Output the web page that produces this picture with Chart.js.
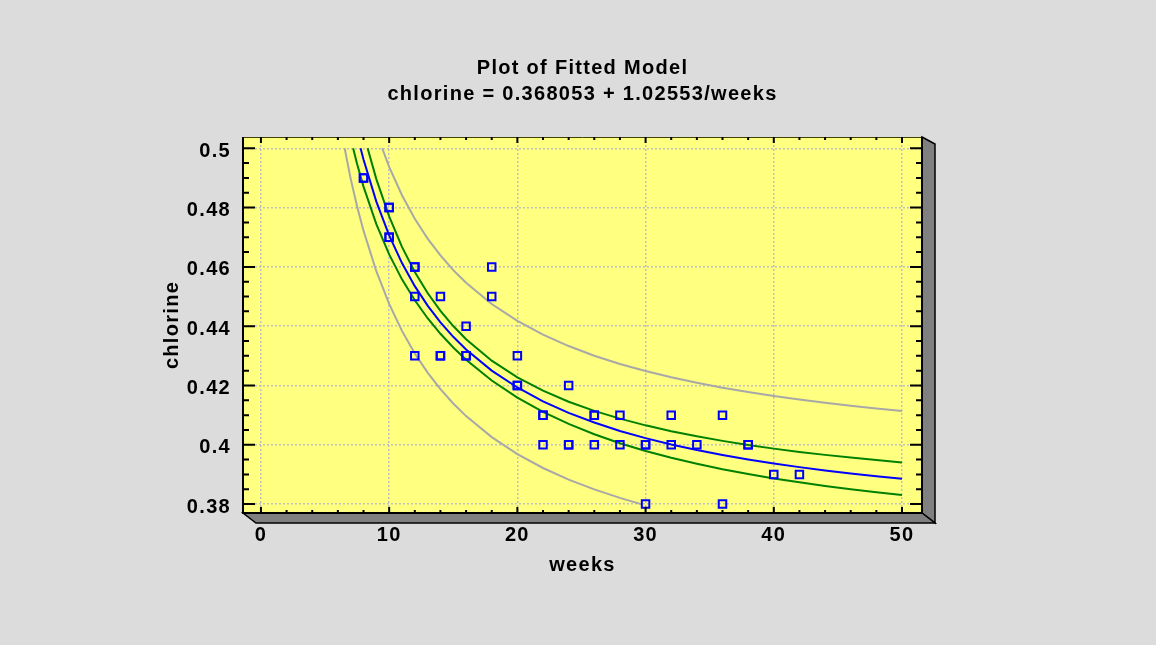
<!DOCTYPE html>
<html>
<head>
<meta charset="utf-8">
<title>Plot of Fitted Model</title>
<script src="https://cdn.jsdelivr.net/npm/chart.js@4.4.1/dist/chart.umd.min.js"></script>
<style>
  html, body { margin: 0; padding: 0; background: #dcdcdc; }
  canvas { display: block; }
</style>
</head>
<body>
<canvas id="myChart" width="1156" height="645"></canvas>
<script>
// observations
let weeks    = [8,8,10,10,10,10,12,12,12,12,14,14,14,16,16,16,18,18,20,20,20,22,22,22,24,24,24,26,26,26,28,28,30,30,30,32,32,34,36,36,38,38,40,42];
let chlorine = [0.49,0.49,0.48,0.47,0.48,0.47,0.46,0.46,0.45,0.43,0.45,0.43,0.43,0.44,0.43,0.43,0.46,0.45,0.42,0.42,0.43,0.41,0.41,0.40,0.42,0.40,0.40,0.41,0.40,0.41,0.41,0.40,0.40,0.40,0.38,0.41,0.40,0.40,0.41,0.38,0.40,0.40,0.39,0.39];

// fitted line and limits
let fitX = [7.77,8,9,10,11,12,13,14,15,16,18,20,22,24,26,28,30,32,34,36,38,40,42,44,46,48,50];
let fitY = [0.5,0.49624,0.482,0.47061,0.46128,0.45351,0.44694,0.44131,0.43642,0.43215,0.42503,0.41933,0.41467,0.41078,0.4075,0.40468,0.40224,0.4001,0.39822,0.39654,0.39504,0.39369,0.39247,0.39136,0.39035,0.38942,0.38856];

let upConfX = [8.32,9,10,11,12,13,14,15,16,18,20,22,24,26,28,30,32,34,36,38,40,42,44,46,48,50];
let upConfY = [0.5,0.4896,0.47701,0.46676,0.45829,0.45119,0.44518,0.44004,0.4356,0.42838,0.42275,0.41824,0.41453,0.41145,0.40882,0.40656,0.40458,0.40285,0.40132,0.39994,0.39871,0.3976,0.3966,0.39568,0.39484,0.39406];

let loConfX = [7.19,7.5,8,9,10,11,12,13,14,15,16,18,20,22,24,26,28,30,32,34,36,38,40,42,44,46,48,50];
let loConfY = [0.5,0.49467,0.48708,0.4744,0.46421,0.4558,0.44873,0.44269,0.43744,0.4328,0.4287,0.42168,0.41591,0.4111,0.40703,0.40355,0.40054,0.39792,0.39562,0.39359,0.39176,0.39014,0.38867,0.38734,0.38612,0.38502,0.384,0.38306];

let upPredX = [9.46,10,11,12,13,14,15,16,18,20,22,24,26,28,30,32,34,36,38,40,42,44,46,48,50];
let upPredY = [0.5,0.49372,0.48415,0.47622,0.46954,0.46385,0.45891,0.45462,0.44748,0.44179,0.43716,0.4333,0.43005,0.42726,0.42486,0.42275,0.4209,0.41925,0.41778,0.41645,0.41526,0.41417,0.41318,0.41227,0.41143];

let loPredX = [6.53,7,7.5,8,9,10,11,12,13,14,15,16,18,20,22,24,26,28,29.65];
let loPredY = [0.5,0.48968,0.48039,0.47222,0.45854,0.4475,0.43841,0.4308,0.42434,0.41877,0.41393,0.40968,0.40258,0.39687,0.39218,0.38826,0.38495,0.3821,0.38];

// axis ticks
let xTicks = [0,10,20,30,40,50];
let yTicks = [0.38,0.4,0.42,0.44,0.46,0.48,0.5];

let pts = (xs, ys) => xs.map((x, i) => ({x: x, y: ys[i]}));
let fnt = {family: '"Liberation Sans", Arial, sans-serif', size: 20, weight: 'bold'};

let spacing = {
  id: 'spacing',
  beforeUpdate(c) { c.ctx.letterSpacing = '1.3px'; },
  beforeDraw(c) { c.ctx.letterSpacing = '1.3px'; }
};

let frame = {
  id: 'frame',
  beforeDraw(c) {
    let ctx = c.ctx, a = c.chartArea;
    ctx.save();
    ctx.fillStyle = '#ffff80';
    ctx.fillRect(a.left, a.top, a.right - a.left, a.bottom - a.top);
    ctx.restore();
  },
  afterDraw(c) {
    let ctx = c.ctx, a = c.chartArea, sx = c.scales.x, sy = c.scales.y;
    ctx.save();
    // 3d side + floor
    ctx.fillStyle = '#808080';
    ctx.strokeStyle = '#000';
    ctx.lineWidth = 1.5;
    ctx.beginPath();
    ctx.moveTo(a.right, a.top);
    ctx.lineTo(a.right + 13, a.top + 7);
    ctx.lineTo(a.right + 13, a.bottom + 10);
    ctx.lineTo(a.right, a.bottom);
    ctx.closePath();
    ctx.fill(); ctx.stroke();
    ctx.beginPath();
    ctx.moveTo(a.left, a.bottom);
    ctx.lineTo(a.right, a.bottom);
    ctx.lineTo(a.right + 13, a.bottom + 10);
    ctx.lineTo(a.left + 13, a.bottom + 10);
    ctx.closePath();
    ctx.fill(); ctx.stroke();

    // frame
    ctx.strokeStyle = '#404000';
    ctx.lineWidth = 1;
    ctx.beginPath();
    ctx.moveTo(a.left, a.top + 0.5); ctx.lineTo(a.right, a.top + 0.5);
    ctx.stroke();
    ctx.strokeStyle = '#000';
    ctx.lineWidth = 2;
    ctx.beginPath();
    ctx.moveTo(a.left, a.top); ctx.lineTo(a.left, a.bottom); ctx.lineTo(a.right, a.bottom); ctx.lineTo(a.right, a.top);
    ctx.stroke();

    // tick marks
    ctx.lineWidth = 2;
    ctx.beginPath();
    for (let v = 0; v <= 50; v += 2) {
      let px = sx.getPixelForValue(v);
      let len = v % 10 === 0 ? 6 : 3;
      ctx.moveTo(px, a.bottom); ctx.lineTo(px, a.bottom - len);
      ctx.moveTo(px, a.top); ctx.lineTo(px, a.top + len);
    }
    for (let k = 0; k <= 24; k++) {
      let py = sy.getPixelForValue(0.38 + k * 0.005);
      let len = k % 4 === 0 ? 12 : 6;
      ctx.moveTo(a.left, py); ctx.lineTo(a.left + len, py);
      ctx.moveTo(a.right, py); ctx.lineTo(a.right - len, py);
    }
    ctx.stroke();
    ctx.restore();
  }
};

let ctx = document.querySelector('#myChart').getContext('2d');
let myChart = new Chart(ctx, {
  type: 'scatter',
  data: {
    datasets: [
      {
        label: 'chlorine',
        data: pts(weeks, chlorine),
        pointStyle: 'rect',
        pointRadius: 5.3,
        borderColor: '#0000ff',
        backgroundColor: 'rgba(0,0,0,0)',
        borderWidth: 2
      },
      {
        label: 'fit',
        data: pts(fitX, fitY),
        showLine: true, pointRadius: 0,
        borderColor: '#0000ff', borderWidth: 2
      },
      {
        label: 'upper conf',
        data: pts(upConfX, upConfY),
        showLine: true, pointRadius: 0,
        borderColor: '#008000', borderWidth: 2
      },
      {
        label: 'lower conf',
        data: pts(loConfX, loConfY),
        showLine: true, pointRadius: 0,
        borderColor: '#008000', borderWidth: 2
      },
      {
        label: 'upper pred',
        data: pts(upPredX, upPredY),
        showLine: true, pointRadius: 0,
        borderColor: '#a8a8a8', borderWidth: 2
      },
      {
        label: 'lower pred',
        data: pts(loPredX, loPredY),
        showLine: true, pointRadius: 0,
        borderColor: '#a8a8a8', borderWidth: 2
      }
    ]
  },
  options: {
    responsive: false,
    animation: false,
    layout: { padding: { left: 0, right: 234, top: 0, bottom: 0 } },
    plugins: {
      legend: { display: false },
      tooltip: { enabled: false },
      title: {
        display: true,
        fullSize: false,
        text: ['Plot of Fitted Model', 'chlorine = 0.368053 + 1.02553/weeks'],
        color: '#000',
        font: Object.assign({}, fnt, { lineHeight: 1.325 }),
        padding: { top: 55, bottom: 29 }
      }
    },
    scales: {
      x: {
        type: 'linear',
        min: -1.4,
        max: 51.56,
        afterBuildTicks: s => { s.ticks = xTicks.map(v => ({value: v})); },
        afterFit: s => { s.height = 132; },
        grid: { color: '#c0c0c0', lineWidth: 1.5, drawTicks: false },
        border: { display: false, dash: [2, 2] },
        ticks: { color: '#000', font: fnt, padding: 10, callback: v => String(v) },
        title: { display: true, text: 'weeks', color: '#000', font: fnt, padding: { top: 0, bottom: 68 } }
      },
      y: {
        type: 'linear',
        min: 0.377,
        max: 0.5038,
        afterBuildTicks: s => { s.ticks = yTicks.map(v => ({value: v})); },
        afterFit: s => { s.width = 243; },
        grid: { color: '#c0c0c0', lineWidth: 1.5, drawTicks: false },
        border: { display: false, dash: [2, 2] },
        ticks: { color: '#000', font: fnt, padding: 12, labelOffset: 3, callback: v => String(v) },
        title: { display: true, text: 'chlorine', color: '#000', font: fnt, padding: { top: 160, bottom: 0 } }
      }
    }
  },
  plugins: [spacing, frame]
});
</script>
</body>
</html>
